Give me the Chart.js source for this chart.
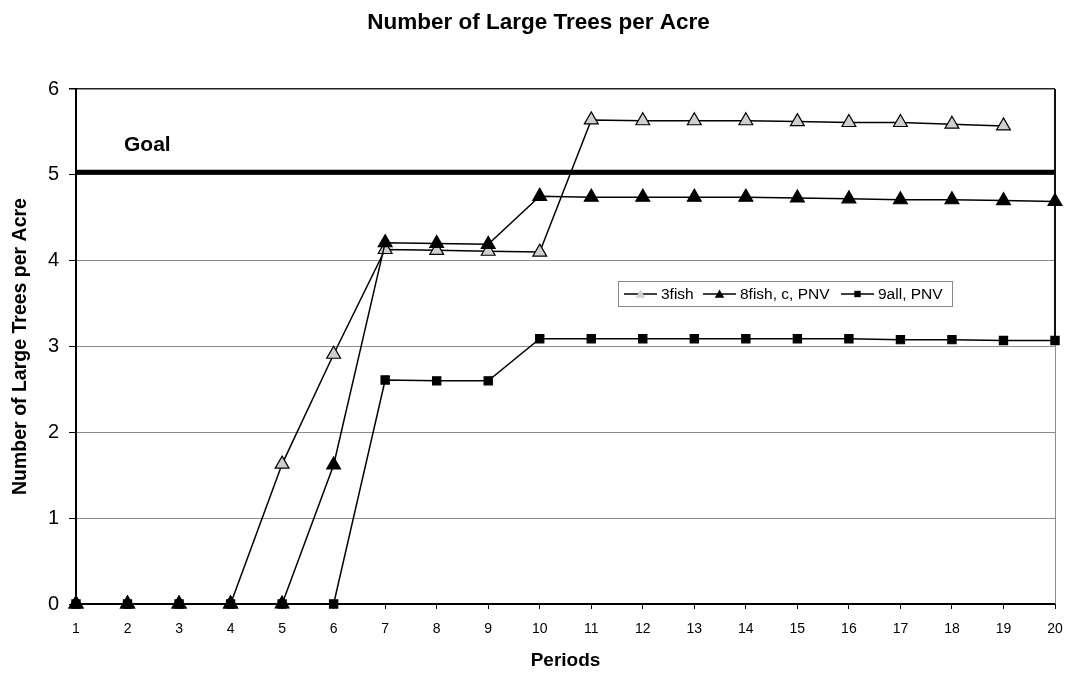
<!DOCTYPE html>
<html>
<head>
<meta charset="utf-8">
<script src="https://cdn.jsdelivr.net/npm/chart.js@4/dist/chart.umd.min.js"></script>
<style>
  html, body { margin: 0; padding: 0; background: #fff; }
  canvas { display: block; }
</style>
</head>
<body>
<canvas id="chart" width="1066" height="673"></canvas>
<script>
// Periods along the x axis
const periods = [1, 2, 3, 4, 5, 6, 7, 8, 9, 10, 11, 12, 13, 14, 15, 16, 17, 18, 19, 20];

// Large trees per acre, by scenario
const fish3 = [0, 0, 0, 0, 1.63, 2.91, 4.13, 4.12, 4.11, 4.10, 5.64, 5.63, 5.63, 5.63, 5.62, 5.61, 5.61, 5.59, 5.57, null];
const fish8 = [0, 0, 0, 0, 0, 1.62, 4.21, 4.20, 4.19, 4.75, 4.74, 4.74, 4.74, 4.74, 4.73, 4.72, 4.71, 4.71, 4.70, 4.69];
const all9  = [0, 0, 0, 0, 0, 0, 2.61, 2.60, 2.60, 3.09, 3.09, 3.09, 3.09, 3.09, 3.09, 3.09, 3.08, 3.08, 3.07, 3.07];

// Target level
const goalValue = 5.03;

// Y axis range
const yMin = 0;
const yMax = 6;
const yStep = 1;

const chartTitle = 'Number of Large Trees per Acre';

const FONT = "'Liberation Sans', Arial, Helvetica, sans-serif";

// Chart heading, centred over the plot
const headingPlugin = {
  id: 'heading',
  afterDraw(chart) {
    const { ctx, chartArea: a } = chart;
    ctx.save();
    ctx.font = 'bold 22.5px ' + FONT;
    ctx.fillStyle = '#000';
    ctx.textAlign = 'center';
    ctx.textBaseline = 'middle';
    ctx.fillText(chartTitle, (a.left + a.right) / 2 - 27, 23);
    ctx.restore();
  }
};

// Thick goal line with its label, drawn under the series
const goalPlugin = {
  id: 'goalLine',
  beforeDatasetsDraw(chart) {
    const { ctx, chartArea: a, scales: { y } } = chart;
    const py = y.getPixelForValue(goalValue);
    ctx.save();
    ctx.strokeStyle = '#000';
    ctx.lineWidth = 5;
    ctx.beginPath();
    ctx.moveTo(a.left, py);
    ctx.lineTo(a.right, py);
    ctx.stroke();
    ctx.font = 'bold 21px ' + FONT;
    ctx.fillStyle = '#000';
    ctx.textBaseline = 'middle';
    ctx.textAlign = 'left';
    ctx.fillText('Goal', a.left + 48, py - 27);
    ctx.restore();
  }
};

// Right-hand frame edge
const framePlugin = {
  id: 'frameEdge',
  beforeDatasetsDraw(chart) {
    const { ctx, chartArea: a, scales: { y } } = chart;
    ctx.save();
    ctx.lineWidth = 1;
    ctx.strokeStyle = '#8c8c8c';
    ctx.beginPath();
    ctx.moveTo(a.right + 0.5, a.top);
    ctx.lineTo(a.right + 0.5, a.bottom);
    ctx.stroke();
    ctx.lineWidth = 2;
    ctx.strokeStyle = '#111';
    ctx.beginPath();
    ctx.moveTo(a.right, a.top);
    ctx.lineTo(a.right, y.getPixelForValue(all9[all9.length - 1]));
    ctx.stroke();
    ctx.restore();
  }
};

// Boxed one-row legend inside the plot area
const boxLegendPlugin = {
  id: 'boxLegend',
  afterDraw(chart) {
    const { ctx, chartArea: a } = chart;
    const bx = a.left + 542, by = a.top + 192, bw = 334, bh = 25;
    ctx.save();
    ctx.fillStyle = '#fff';
    ctx.fillRect(bx, by, bw, bh);
    ctx.strokeStyle = '#8a8a8a';
    ctx.lineWidth = 1;
    ctx.strokeRect(bx + 0.5, by + 0.5, bw, bh);
    const cy = by + bh / 2 + 0.5;
    const items = [
      { ds: 0, x0: bx + 6,   r: 5.5 },
      { ds: 1, x0: bx + 85,  r: 5.5 },
      { ds: 2, x0: bx + 223, r: 4.5 }
    ];
    ctx.font = '15.5px ' + FONT;
    ctx.textBaseline = 'middle';
    ctx.textAlign = 'left';
    items.forEach(it => {
      const ds = chart.data.datasets[it.ds];
      const len = 33;
      ctx.strokeStyle = '#000';
      ctx.lineWidth = 1.5;
      ctx.beginPath();
      ctx.moveTo(it.x0, cy);
      ctx.lineTo(it.x0 + len, cy);
      ctx.stroke();
      ctx.fillStyle = ds.pointBackgroundColor;
      ctx.strokeStyle = '#000';
      ctx.lineWidth = 1.2;
      Chart.helpers.drawPoint(ctx, { pointStyle: ds.pointStyle, radius: it.r, rotation: 0 }, it.x0 + len / 2, cy + (ds.pointStyle === 'triangle' ? 1 : 0));
      ctx.fillStyle = '#000';
      ctx.fillText(ds.label, it.x0 + len + 4, cy + 1);
    });
    ctx.restore();
  }
};

const lineCommon = {
  borderColor: '#000',
  borderWidth: 1.5,
  pointBorderColor: '#000',
  pointBorderWidth: 1.2,
  tension: 0,
  clip: false,
  spanGaps: false
};

new Chart(document.getElementById('chart'), {
  type: 'line',
  data: {
    labels: periods.map(String),
    datasets: [
      Object.assign({}, lineCommon, {
        label: '3fish',
        data: fish3,
        order: 2,
        pointStyle: 'triangle',
        pointRadius: 8,
        pointBackgroundColor: '#cfcfcf'
      }),
      Object.assign({}, lineCommon, {
        label: '8fish, c, PNV',
        data: fish8,
        order: 1,
        pointStyle: 'triangle',
        pointRadius: 8,
        pointBackgroundColor: '#000'
      }),
      Object.assign({}, lineCommon, {
        label: '9all, PNV',
        data: all9,
        order: 0,
        pointStyle: 'rect',
        pointRadius: 5.8,
        pointBackgroundColor: '#000'
      })
    ]
  },
  options: {
    responsive: false,
    animation: false,
    devicePixelRatio: 1,
    layout: { padding: { left: 0, right: 11, top: 89, bottom: 0 } },
    plugins: {
      legend: { display: false },
      tooltip: { enabled: false },
      title: { display: false }
    },
    scales: {
      x: {
        offset: false,
        grid: {
          drawOnChartArea: false,
          drawTicks: true,
          tickLength: 5,
          tickColor: '#000'
        },
        border: { display: true, color: '#000', width: 2 },
        ticks: {
          color: '#000',
          font: { family: FONT, size: 14 },
          padding: 12,
          maxRotation: 0,
          autoSkip: false
        },
        title: {
          display: true,
          text: 'Periods',
          color: '#000',
          font: { family: FONT, size: 19, weight: 'bold' },
          padding: { top: 0, bottom: 1 }
        },
        afterFit(s) { s.height = 69; s.paddingLeft = 0; s.paddingRight = 0; }
      },
      y: {
        min: yMin,
        max: yMax,
        ticks: {
          stepSize: yStep,
          color: '#000',
          font: { family: FONT, size: 20 },
          padding: 10
        },
        grid: {
          color: c => (c.tick && c.tick.value === yMax) ? '#222' : '#8c8c8c',
          lineWidth: c => (c.tick && c.tick.value === yMax) ? 1.5 : 1,
          tickColor: '#000',
          tickLength: 7
        },
        border: { display: true, color: '#000', width: 2 },
        title: {
          display: true,
          text: 'Number of Large Trees per Acre',
          color: '#000',
          font: { family: FONT, size: 19.5, weight: 'bold' },
          padding: { top: 9, bottom: 0 }
        },
        afterFit(s) { s.width = 76; s.paddingTop = 0; s.paddingBottom = 0; }
      }
    }
  },
  plugins: [goalPlugin, framePlugin, boxLegendPlugin, headingPlugin]
});
</script>
</body>
</html>
